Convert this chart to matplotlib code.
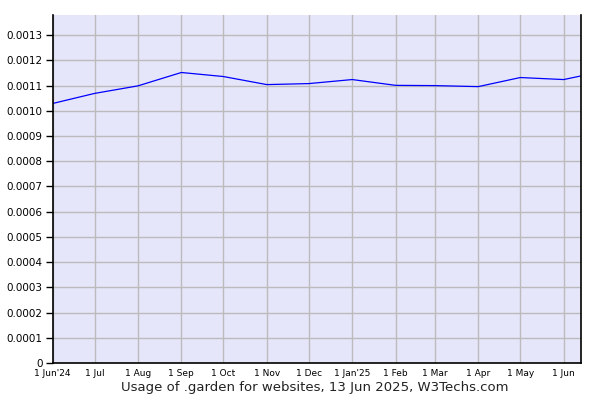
import matplotlib
matplotlib.use("Agg")
import matplotlib.pyplot as plt
import numpy as np
import datetime as dt

# monthly usage of .garden (share of websites)
dates = ["2024-06-01", "2024-07-01", "2024-08-01", "2024-09-01", "2024-10-01",
         "2024-11-01", "2024-12-01", "2025-01-01", "2025-02-01", "2025-03-01",
         "2025-04-01", "2025-05-01", "2025-06-01", "2025-06-13"]
usage = [0.001029, 0.001069, 0.001099, 0.001152, 0.001136,
         0.001104, 0.001108, 0.001124, 0.001101, 0.001100,
         0.001096, 0.001132, 0.001124, 0.001138]

tick_dates = ["2024-06-01", "2024-07-01", "2024-08-01", "2024-09-01", "2024-10-01",
              "2024-11-01", "2024-12-01", "2025-01-01", "2025-02-01", "2025-03-01",
              "2025-04-01", "2025-05-01", "2025-06-01"]
tick_labels = ["1 Jun'24", "1 Jul", "1 Aug", "1 Sep", "1 Oct", "1 Nov", "1 Dec",
               "1 Jan'25", "1 Feb", "1 Mar", "1 Apr", "1 May", "1 Jun"]

x = [dt.datetime.strptime(d, "%Y-%m-%d") for d in dates]
xt = [dt.datetime.strptime(d, "%Y-%m-%d") for d in tick_dates]

fig = plt.figure(figsize=(6, 4), dpi=100)
ax = fig.add_axes([0.0875, 0.0925, 0.88, 0.87])
ax.set_facecolor("#e6e6fa")

ax.plot(x, usage, color="#0000ff", linewidth=0.9)

ax.set_xlim(x[0], x[-1])
ax.set_ylim(0, 0.00138)
ax.set_yticks(np.arange(0, 0.00131, 0.0001))
ax.set_yticklabels(["0"] + ["%.4f" % v for v in np.arange(0.0001, 0.00131, 0.0001)])
ax.set_xticks(xt)
ax.set_xticklabels(tick_labels)

ax.grid(True, color="#bbbbbb", linewidth=1)
ax.set_axisbelow(True)
ax.tick_params(axis="y", labelsize=7.5, length=5, width=1, direction="out", pad=2)
ax.tick_params(axis="x", labelsize=6.5, length=0, pad=4)

ax.spines["top"].set_visible(False)
for s in ["left", "right", "bottom"]:
    ax.spines[s].set_color("black")
    ax.spines[s].set_linewidth(1.2)

fig.text(0.525, 0.03, "Usage of .garden for websites, 13 Jun 2025, W3Techs.com",
         ha="center", va="center", fontsize=9.5, color="#222222")

fig.savefig("out.png", dpi=100)
